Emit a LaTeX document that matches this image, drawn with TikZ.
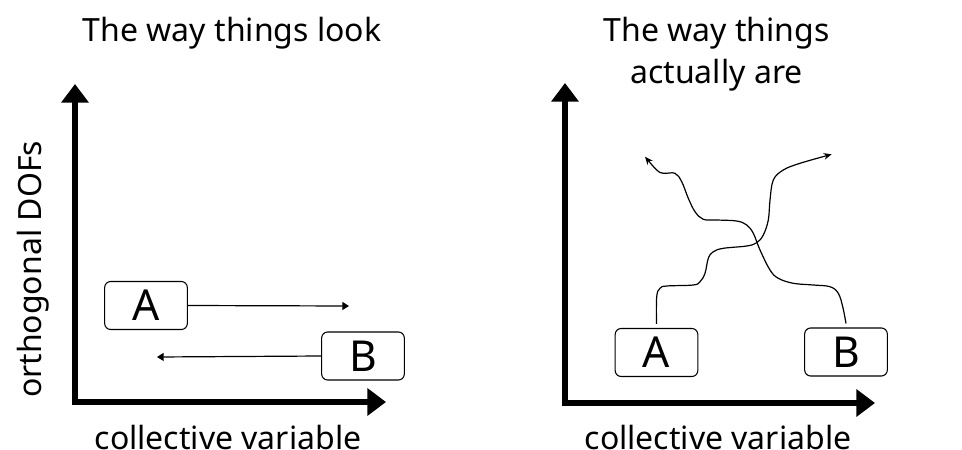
\documentclass[tikz,border=0pt]{standalone}
\usepackage{fontspec}
\setmainfont{Noto Sans}
\usetikzlibrary{arrows.meta}
\begin{document}
\begin{tikzpicture}[x=0.75pt,y=-0.75pt,
  axis/.style={line width=4.5pt,line join=miter,{Triangle[length=14pt,width=20pt]}-{Triangle[length=14pt,width=20pt]}},
  state/.style={draw,line width=0.8pt,rounded corners=4.5pt,minimum width=62pt,minimum height=36pt,inner sep=0pt,font=\fontsize{32}{38}\selectfont},
  lbl/.style={font=\fontsize{24}{31.5}\selectfont},
  path/.style={line width=0.9pt,-{Triangle[length=5pt,width=6pt]}},
  wig/.style={line width=0.9pt,-{Stealth[length=6pt,width=5pt]}}]
\useasboundingbox (0,0) rectangle (962,449);
% left panel
\node[lbl,anchor=base] (t1) at (232,42) {The way things look};
\coordinate (ly) at (75,84);
\coordinate (lo) at (75,402);
\coordinate (lx) at (386,402);
\draw[axis] (ly) -- (lo) -- (lx);
\node[lbl,anchor=base] (xl1) at (228,449) {collective variable};
\node[lbl,anchor=base,rotate=90] (yl) at (41,269.5) {orthogonal DOFs};
\node[state] (lA) at (146,305.5) {A};
\node[state] (lB) at (363,356) {B};
\coordinate (lAe) at (349,306);
\coordinate (lBe) at (157,357);
\draw[path] (lA.east) -- (lAe);
\draw[path] (lB.west) -- (lBe);
% right panel
\node[lbl,anchor=base,align=center] (t2) at (716.5,83.3) {The way things\\actually are};
\coordinate (ry) at (565,83);
\coordinate (ro) at (565,403);
\coordinate (rx) at (875,403);
\draw[axis] (ry) -- (ro) -- (rx);
\node[lbl,anchor=base] (xl2) at (718,449) {collective variable};
\node[state] (rA) at (656.5,352.5) {A};
\node[state] (rB) at (846,352) {B};
\coordinate (a0) at ([yshift=3pt]rA.north);
\coordinate (b0) at ([yshift=3pt]rB.north);
\draw[wig] plot[smooth,tension=0.6] coordinates {(a0) (656.7,296.7) (660,288.3) (666.7,286) (693.3,285) (700,281.7) (705,273.3) (708.3,258.3) (713.3,251.7) (723.3,248.3) (746.7,246) (756.7,242.7) (763.3,235) (768.3,220) (770,200) (773.3,180) (783.3,170) (800,163.3) (831.7,154.3)};
\draw[wig] plot[smooth,tension=0.6] coordinates {(b0) (842.7,306.7) (838.3,293.3) (830,286.7) (813.3,285) (793.3,283.3) (778.3,278.3) (770,270) (760,250) (753.3,233.3) (746.7,225) (736.7,221) (716.7,220) (703.3,219.3) (695,211.7) (688.3,198.3) (681.7,181.7) (675,173.3) (663.3,173.3) (656.7,170) (645,156.7)};
\end{tikzpicture}
\end{document}
